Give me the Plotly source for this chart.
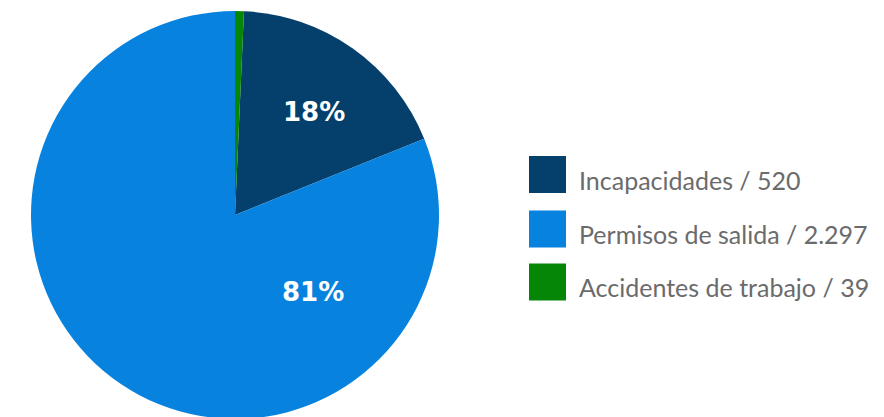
import plotly.graph_objects as go

categories = ["Incapacidades", "Permisos de salida", "Accidentes de trabajo"]
counts = ["520", "2.297", "39"]
shares = [18.2, 81.1, 0.7]          # slice shares (%)
pct_labels = ["18%", "81%", ""]
colors = ["#053f6b", "#0783df", "#068606"]

W, H = 884, 417
OFF = 8  # page body margin offset
cx, cy, r = 235 - OFF, 215 - OFF, 204
top = cy - r

fig = go.Figure(go.Pie(
    labels=categories,
    values=shares,
    sort=False,
    direction="clockwise",
    rotation=shares[2] * 3.6,
    marker=dict(colors=colors, line=dict(width=0)),
    textinfo="none",
    hoverinfo="label+percent",
    domain=dict(x=[(cx - r) / W, (cx + r) / W], y=[0, 1]),
    showlegend=False,
))

ph = H - top - (H - top - 2 * r)  # plot height = 2r

def py2paper(py):
    # py in figure pixels
    return 1 - (py - top) / (2 * r)

def px2paper(px):
    return px / W

annotations = []
label_pos = [(314 - OFF, 112 - OFF), (313 - OFF, 292 - OFF)]
for txt, (px, py) in zip(pct_labels[:2], label_pos):
    annotations.append(dict(
        x=px2paper(px), y=py2paper(py), xref="paper", yref="paper",
        text=f"<b>{txt}</b>", showarrow=False,
        font=dict(family="DejaVu Sans", size=26, color="white"),
        xanchor="center", yanchor="middle"))

shapes = []
row_y = [174.5, 229, 282]
for cat, cnt, col, ry in zip(categories, counts, colors, row_y):
    ry = ry - OFF
    shapes.append(dict(type="rect", xref="paper", yref="paper",
                       x0=px2paper(529 - OFF), x1=px2paper(566 - OFF),
                       y0=py2paper(ry + 18.5), y1=py2paper(ry - 18.5),
                       fillcolor=col, line=dict(width=0)))
    annotations.append(dict(
        x=px2paper(577 - OFF), y=py2paper(ry + 5), xref="paper", yref="paper",
        text=f"{cat} / {cnt}", showarrow=False,
        font=dict(family="Lato", size=25, color="#6b6b6b"),
        xanchor="left", yanchor="middle"))

fig.update_layout(
    width=W, height=H,
    margin=dict(l=0, r=0, t=top, b=H - top - 2 * r),
    paper_bgcolor="white", plot_bgcolor="white",
    annotations=annotations, shapes=shapes,
)

fig.write_html("out.html")
